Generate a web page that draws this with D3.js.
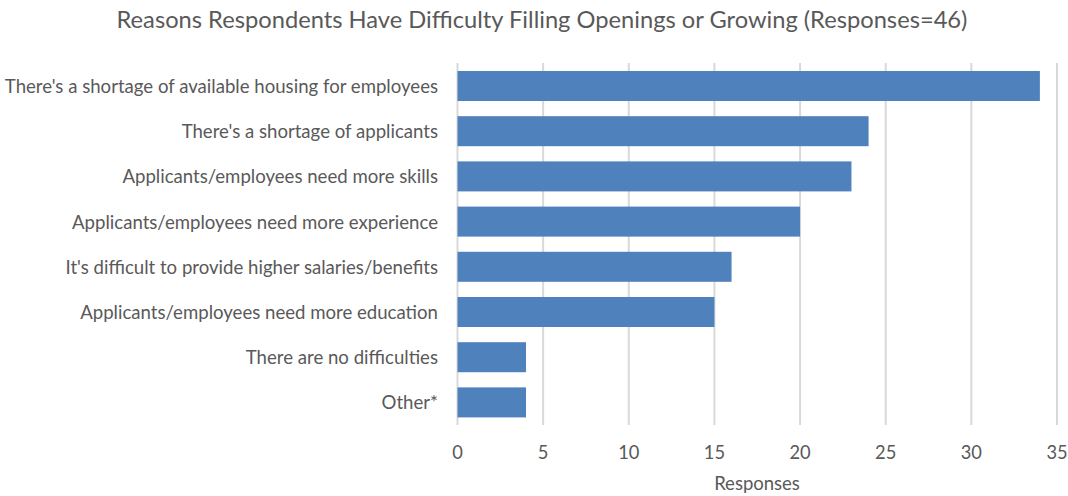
<!DOCTYPE html>
<html><head><meta charset="utf-8">
<script src="https://cdn.jsdelivr.net/npm/d3@7"></script>
<style>
body{margin:0;background:#fff;}
text{font-family:Lato, "Open Sans", sans-serif;fill:#595959;}
</style></head>
<body><svg id="c" width="1068" height="496"></svg>
<script>
const categories = [
  "There's a shortage of available housing for employees",
  "There's a shortage of applicants",
  "Applicants/employees need more skills",
  "Applicants/employees need more experience",
  "It's difficult to provide higher salaries/benefits",
  "Applicants/employees need more education",
  "There are no difficulties",
  "Other*"
];
const values = [34, 24, 23, 20, 16, 15, 4, 4];
const xTicks = [0, 5, 10, 15, 20, 25, 30, 35];
const title = "Reasons Respondents Have Difficulty Filling Openings or Growing (Responses=46)";
const xTitle = "Responses";

const svg = d3.select("#c");
const x = d3.scaleLinear().domain([0, 35]).range([457.5, 1057]);
const y = d3.scaleBand().domain(categories).range([63.4, 425]).paddingInner(0.336).paddingOuter(0.168);

svg.append("g").selectAll("line").data(xTicks).join("line")
  .attr("x1", d => x(d)).attr("x2", d => x(d))
  .attr("y1", 63).attr("y2", 425)
  .attr("stroke", "#d9d9d9").attr("stroke-width", 2);

svg.append("g").selectAll("rect").data(values).join("rect")
  .attr("x", x(0)).attr("y", (d, i) => y(categories[i]))
  .attr("width", d => x(d) - x(0)).attr("height", y.bandwidth())
  .attr("fill", "#4f81bd");

svg.append("g").selectAll("text").data(categories).join("text")
  .attr("x", 438).attr("y", d => y(d) + y.bandwidth() / 2)
  .attr("text-anchor", "end").attr("dominant-baseline", "central")
  .style("font-size", "18.6px").text(d => d);

svg.append("g").selectAll("text").data(xTicks).join("text")
  .attr("x", d => x(d)).attr("y", 452)
  .attr("text-anchor", "middle").attr("dominant-baseline", "central")
  .style("font-size", "18.3px").text(d => d);

svg.append("text").attr("x", 757).attr("y", 483)
  .attr("text-anchor", "middle").attr("dominant-baseline", "central")
  .style("font-size", "18.5px").text(xTitle);

svg.append("text").attr("x", 542).attr("y", 19)
  .attr("text-anchor", "middle").attr("dominant-baseline", "central")
  .style("font-size", "23.7px").text(title);
</script></body></html>
